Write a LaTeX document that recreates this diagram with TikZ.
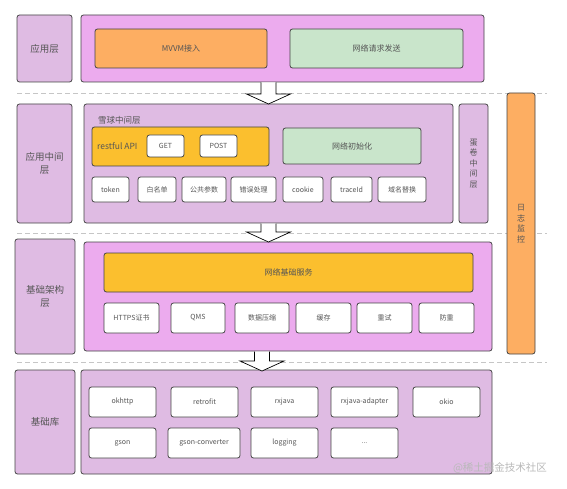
\documentclass[tikz,border=0pt]{standalone}
\usepackage{fontspec}
\setmainfont{Noto Sans CJK SC}
\usetikzlibrary{positioning}

\definecolor{lilac}{HTML}{DFBBE3}
\definecolor{pinkbox}{HTML}{ECABEE}
\definecolor{orangebox}{HTML}{FDAE62}
\definecolor{greenbox}{HTML}{C9E5CB}
\definecolor{yellowbox}{HTML}{FBBF2E}
\definecolor{inkgray}{HTML}{444444}
\definecolor{textgray}{HTML}{555555}

\tikzset{
  base/.style={draw=inkgray, line width=0.8pt, rounded corners=2.5pt,
    text=textgray, inner sep=0pt, align=center}, % every box
  layerlabel/.style={base, fill=lilac, font=\fontsize{9.5}{13.5}\selectfont},
  layerpink/.style={base, fill=pinkbox},
  layerlilac/.style={base, fill=lilac},
  module/.style={base, font=\fontsize{8}{10}\selectfont},
  item/.style={base, fill=white, font=\fontsize{7}{9}\selectfont},
  sepline/.style={draw=gray!45, dashed, dash pattern=on 5pt off 3pt, line width=0.6pt},
  blockarrow/.style={draw=black, fill=white, line width=0.7pt, line join=miter},
}

% down arrow between two layers: x, top, head base, tip
\newcommand{\layerarrow}[4]{%
  \draw[blockarrow] (#1-7.5,#2) -- (#1-7.5,#3) -- (#1-22,#3) -- (#1,#4)
    -- (#1+22,#3) -- (#1+7.5,#3) -- (#1+7.5,#2);
}

\begin{document}
\begin{tikzpicture}[x=1pt,y=-1pt]
  \useasboundingbox (0,0) rectangle (567,489);

  % separators
  \draw[sepline] (17,93) -- (547,93);
  \draw[sepline] (17,233) -- (547,233);
  \draw[sepline] (17,362) -- (547,362);

  % application layer
  \node[layerlabel, minimum width=55, minimum height=67] (lblApp) at (44.5,48.5) {应用层};
  \node[layerpink, minimum width=403, minimum height=67] (appMain) at (282.5,48.5) {};
  \node[module, fill=orangebox, minimum width=172, minimum height=39] (mvvm) at (181,48.5) {MVVM接入};
  \node[module, fill=greenbox, minimum width=173, minimum height=39] (netSend) at (376.5,48.5) {网络请求发送};

  % middle layer
  \node[layerlabel, minimum width=55, minimum height=119] (lblMid) at (44.5,163.5) {应用中间\\层};
  \node[layerlilac, minimum width=369, minimum height=119] (midMain) at (268.5,163.5) {};
  \node[text=textgray, font=\fontsize{8.5}{10}\selectfont, anchor=west, inner sep=0pt] (xueqiu) at (98,120.5) {雪球中间层};
  \node[module, fill=yellowbox, minimum width=177, minimum height=39] (restful) at (180.5,146.5) {};
  \node[text=textgray, font=\fontsize{8.5}{10}\selectfont, anchor=west, inner sep=0pt] (restText) at (97,146.5) {restful API};
  \node[item, minimum width=37, minimum height=22] (get) at (165.5,146) {GET};
  \node[item, minimum width=37, minimum height=22] (post) at (218.5,146) {POST};
  \node[module, fill=greenbox, minimum width=138, minimum height=36] (netInit) at (352,146) {网络初始化};
  \node[item, minimum width=37, minimum height=25] (token) at (110.5,189.5) {token};
  \node[item, minimum width=38, minimum height=25] (whitelist) at (157,189.5) {白名单};
  \node[item, minimum width=44, minimum height=25] (params) at (204,189.5) {公共参数};
  \node[item, minimum width=45, minimum height=25] (errors) at (253.5,189.5) {错误处理};
  \node[item, minimum width=40, minimum height=25] (cookie) at (303,189.5) {cookie};
  \node[item, minimum width=41, minimum height=25] (traceid) at (351.5,189.5) {traceId};
  \node[item, minimum width=48, minimum height=25] (domain) at (402,189.5) {域名替换};
  \node[layerlilac, font=\fontsize{8}{10.4}\selectfont, minimum width=29, minimum height=119] (danjuan) at (473.5,163.5) {蛋\\卷\\中\\间\\层};

  % log monitor
  \node[base, fill=orangebox, font=\fontsize{8}{10.6}\selectfont, minimum width=28, minimum height=261] (logMon) at (521,223.5) {日\\志\\监\\控};

  % infrastructure layer
  \node[layerlabel, minimum width=60, minimum height=115] (lblBase) at (45,296.5) {基础架构\\层};
  \node[layerpink, minimum width=408, minimum height=109] (baseMain) at (288,296.5) {};
  \node[module, fill=yellowbox, minimum width=369, minimum height=39] (netBase) at (288.5,272.5) {网络基础服务};
  \node[item, minimum width=55, minimum height=30] (https) at (131.5,318) {HTTPS证书};
  \node[item, minimum width=54, minimum height=30] (qms) at (198,318) {QMS};
  \node[item, minimum width=54, minimum height=30] (compress) at (262,318) {数据压缩};
  \node[item, minimum width=55, minimum height=30] (cache) at (323.5,318) {缓存};
  \node[item, minimum width=55, minimum height=30] (retry) at (384.5,318) {重试};
  \node[item, minimum width=55, minimum height=30] (dedupe) at (446.5,318) {防重};

  % libraries
  \node[layerlabel, minimum width=60, minimum height=104] (lblLib) at (45,422) {基础库};
  \node[layerlilac, minimum width=411, minimum height=104] (libMain) at (286.5,422) {};
  \node[item, minimum width=67, minimum height=30] (okhttp) at (122.5,402) {okhttp};
  \node[item, minimum width=67, minimum height=30] (retrofit) at (204.5,402) {retrofit};
  \node[item, minimum width=67, minimum height=30] (rxjava) at (284.5,402) {rxjava};
  \node[item, minimum width=67, minimum height=30] (rxadapter) at (364.5,402) {rxjava-adapter};
  \node[item, minimum width=67, minimum height=30] (okio) at (446.5,402) {okio};
  \node[item, minimum width=67, minimum height=30] (gson) at (122.5,443) {gson};
  \node[item, minimum width=72, minimum height=30] (gsonconv) at (204,443) {gson-converter};
  \node[item, minimum width=67, minimum height=30] (logging) at (284.5,443) {logging};
  \node[item, minimum width=67, minimum height=30] (more) at (364.5,443) {...};

  % arrows between layers
  \layerarrow{268.5}{82.5}{94}{104}
  \layerarrow{268.5}{223.5}{232}{242}
  \layerarrow{262}{351.5}{361}{371}

  \node[text=gray!55, font=\fontsize{10.5}{12}\selectfont, inner sep=0pt] (mark) at (500,468) {@稀土掘金技术社区};
\end{tikzpicture}
\end{document}
